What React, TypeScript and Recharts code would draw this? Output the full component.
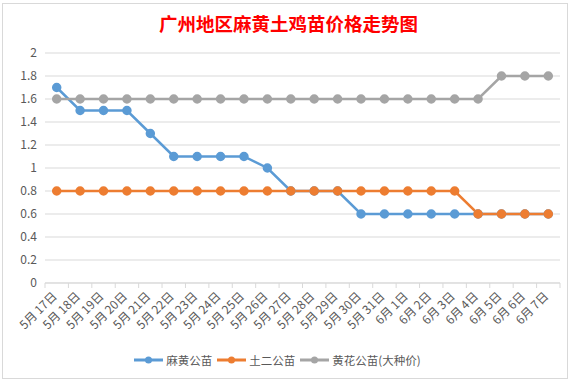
import { LineChart, Line, XAxis, YAxis, CartesianGrid, Legend } from "recharts";

const dates = [
  "5月 17日", "5月 18日", "5月 19日", "5月 20日", "5月 21日", "5月 22日", "5月 23日", "5月 24日",
  "5月 25日", "5月 26日", "5月 27日", "5月 28日", "5月 29日", "5月 30日", "5月 31日",
  "6月 1日", "6月 2日", "6月 3日", "6月 4日", "6月 5日", "6月 6日", "6月 7日",
];
const mahuang = [1.7, 1.5, 1.5, 1.5, 1.3, 1.1, 1.1, 1.1, 1.1, 1.0, 0.8, 0.8, 0.8, 0.6, 0.6, 0.6, 0.6, 0.6, 0.6, 0.6, 0.6, 0.6];
const tuer = [0.8, 0.8, 0.8, 0.8, 0.8, 0.8, 0.8, 0.8, 0.8, 0.8, 0.8, 0.8, 0.8, 0.8, 0.8, 0.8, 0.8, 0.8, 0.6, 0.6, 0.6, 0.6];
const huanghua = [1.6, 1.6, 1.6, 1.6, 1.6, 1.6, 1.6, 1.6, 1.6, 1.6, 1.6, 1.6, 1.6, 1.6, 1.6, 1.6, 1.6, 1.6, 1.6, 1.8, 1.8, 1.8];
const yTicks = [0, 0.2, 0.4, 0.6, 0.8, 1, 1.2, 1.4, 1.6, 1.8, 2];

const series = [
  { key: "mahuang", name: "麻黄公苗", color: "#5b9bd5" },
  { key: "tuer", name: "土二公苗", color: "#ed7d31" },
  { key: "huanghua", name: "黄花公苗(大种价)", color: "#a5a5a5" },
];

const data = dates.map((d, i) => ({
  date: d,
  mahuang: mahuang[i],
  tuer: tuer[i],
  huanghua: huanghua[i],
}));

const FONT = "'Noto Sans CJK SC', 'Noto Sans', sans-serif";
const TEXT = "#595959";
const STEP = 515 / dates.length;

function DateTick(props: any) {
  const { x, y, payload, index } = props;
  const half = STEP / 2;
  return (
    <g>
      <line x1={x - half} y1={y - 8} x2={x - half} y2={y - 3} stroke="#d9d9d9" />
      {index === dates.length - 1 && (
        <line x1={x + half} y1={y - 8} x2={x + half} y2={y - 3} stroke="#d9d9d9" />
      )}
      <text
        x={x + 1}
        y={y + 6}
        textAnchor="end"
        fontSize={12}
        fill={TEXT}
        fontFamily={FONT}
        transform={`rotate(-45, ${x + 1}, ${y + 6})`}
      >
        {payload.value}
      </text>
    </g>
  );
}

function LegendBox() {
  return (
    <div
      style={{
        display: "flex",
        justifyContent: "center",
        fontSize: 11.5,
        color: TEXT,
        height: 30,
        alignItems: "center",
        fontFamily: FONT,
      }}
    >
      {series.map((it) => (
        <span key={it.key} style={{ display: "inline-flex", alignItems: "center", marginRight: 5 }}>
          <svg width={29} height={10} style={{ marginRight: 3 }}>
            <line x1={0} y1={5} x2={29} y2={5} stroke={it.color} strokeWidth={3} />
            <circle cx={14.5} cy={5} r={3.5} fill={it.color} />
          </svg>
          {it.name}
        </span>
      ))}
    </div>
  );
}

export default function App() {
  return (
    <div
      style={{
        position: "absolute",
        left: 0,
        top: 0,
        width: 577,
        height: 383,
        background: "#fff",
        fontFamily: FONT,
      }}
    >
      <div
        style={{
          position: "absolute",
          left: 2,
          top: 3,
          width: 566,
          height: 376,
          border: "1px solid #d9d9d9",
          boxSizing: "border-box",
        }}
      />
      <div
        style={{
          position: "absolute",
          top: 10,
          left: 0,
          width: 577,
          textAlign: "center",
          color: "#ff0000",
          fontSize: 18.5,
          fontWeight: 700,
          fontFamily: FONT,
        }}
      >
        广州地区麻黄土鸡苗价格走势图
      </div>
      <LineChart
        width={577}
        height={383}
        data={data}
        margin={{ top: 53, right: 17, left: 0, bottom: 8 }}
        style={{ position: "absolute", left: 0, top: 0 }}
      >
        <CartesianGrid vertical={false} stroke="#d9d9d9" />
        <XAxis
          dataKey="date"
          interval={0}
          height={62}
          padding={{ left: STEP / 2, right: STEP / 2 }}
          tickLine={false}
          axisLine={{ stroke: "#d9d9d9" }}
          tick={<DateTick />}
        />
        <YAxis
          domain={[0, 2]}
          ticks={yTicks}
          width={45}
          axisLine={false}
          tickLine={false}
          tick={{ fill: TEXT, fontSize: 12, fontFamily: FONT }}
          tickFormatter={(v: number) => String(Math.round(v * 10) / 10)}
        />
        <Legend verticalAlign="bottom" align="center" content={() => <LegendBox />} />
        {series.map((s) => (
          <Line
            key={s.key}
            type="linear"
            dataKey={s.key}
            name={s.name}
            stroke={s.color}
            strokeWidth={2.5}
            dot={{ r: 3.5, fill: s.color, stroke: s.color }}
            isAnimationActive={false}
          />
        ))}
      </LineChart>
    </div>
  );
}
